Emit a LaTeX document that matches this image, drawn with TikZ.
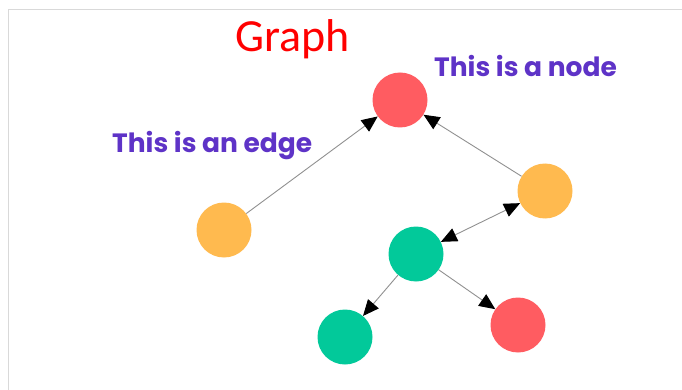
\documentclass[tikz,border=0pt]{standalone}
\usepackage{fontspec}
\setmainfont{Carlito}
\newfontfamily\labelfont{Poppins}
\usepackage{tikz}
\usetikzlibrary{
  arrows.meta,
  positioning
}
\definecolor{nodered}{HTML}{FF5C61}
\definecolor{nodeorange}{HTML}{FFBA4F}
\definecolor{nodegreen}{HTML}{02C99A}
\definecolor{labelpurple}{HTML}{5E33C7}
\definecolor{edgegray}{HTML}{909090}
\definecolor{framegray}{HTML}{D9D9D9}

\begin{document}
\begin{tikzpicture}[
    x=1pt, y=-1pt,
    % Styles
    vertex/.style={
        circle, fill=#1, draw=none,
        minimum size=55pt, inner sep=0pt
    },
    edge/.style={
        draw=edgegray, line width=0.9pt,
        -{Triangle[length=16pt, width=14pt, color=black]}
    },
    twoway/.style={
        draw=edgegray, line width=0.9pt,
        {Triangle[length=16pt, width=14pt, color=black]}-{Triangle[length=16pt, width=14pt, color=black]}
    },
    callout/.style={
        font=\labelfont\bfseries\fontsize{26.5}{30}\selectfont,
        text=labelpurple, inner sep=0pt
    }
]
\useasboundingbox (0,0) rectangle (682,390);

% ── FRAME ──
\draw[framegray, line width=0.8pt] (8,390) coordinate (fbl) -- (8,9.5) coordinate (ftl) -- (682,9.5) coordinate (ftr);

% ── TITLE ──
\node[anchor=base, text=red, inner sep=0pt,
      font=\fontsize{46}{50}\selectfont] (title) at (292.5,52) {Graph};

% ── NODES ──
\node[vertex=nodered] (top) at (400,100) {};
\node[vertex=nodeorange] (leftleaf) at (224,230) {};
\node[vertex=nodeorange] (rightmid) at (545,191) {};
\node[vertex=nodegreen] (center) at (416,254) {};
\node[vertex=nodegreen] (lowleft) at (345,337) {};
\node[vertex=nodered] (lowright) at (518,325) {};

% ── LABELS ──
\node[callout, anchor=base west] (nodelabel) at (434,77) {This is a node};
\node[callout, anchor=base west] (edgelabel) at (112,153) {This is an edge};

% ── EDGES ──
\draw[edge] (leftleaf) -- (top);
\draw[edge] (rightmid) -- (top);
\draw[twoway] (center) -- (rightmid);
\draw[edge] (center) -- (lowleft);
\draw[edge] (center) -- (lowright);

\end{tikzpicture}
\end{document}
